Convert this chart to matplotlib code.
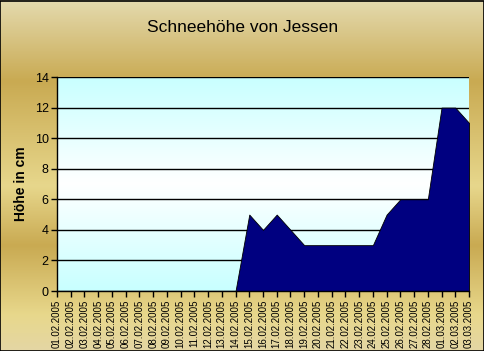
import numpy as np
import matplotlib.pyplot as plt
from matplotlib.colors import LinearSegmentedColormap

dates = ["01.02.2005", "02.02.2005", "03.02.2005", "04.02.2005", "05.02.2005",
         "06.02.2005", "07.02.2005", "08.02.2005", "09.02.2005", "10.02.2005",
         "11.02.2005", "12.02.2005", "13.02.2005", "14.02.2005", "15.02.2005",
         "16.02.2005", "17.02.2005", "18.02.2005", "19.02.2005", "20.02.2005",
         "21.02.2005", "22.02.2005", "23.02.2005", "24.02.2005", "25.02.2005",
         "26.02.2005", "27.02.2005", "28.02.2005", "01.03.2005", "02.03.2005",
         "03.03.2005"]
snow = [0, 0, 0, 0, 0, 0, 0, 0, 0, 0, 0, 0, 0, 0, 5, 4, 5, 4, 3, 3, 3, 3, 3, 3,
        5, 6, 6, 6, 12, 12, 11]
yticks = [0, 2, 4, 6, 8, 10, 12, 14]

plt.rcParams['font.family'] = ['Liberation Sans', 'DejaVu Sans']

fig = plt.figure(figsize=(4.85, 3.51), dpi=100)

# gold background gradient over the whole figure
bg = fig.add_axes([0, 0, 1, 1], zorder=-10)
gold = LinearSegmentedColormap.from_list("gold", [
    (0.00, "#e4d6a4"), (0.10, "#e8d88c"), (0.30, "#c9aa52"),
    (0.47, "#e7d78c"), (0.77, "#c9aa52"), (1.00, "#e4daae")])
bg.imshow(np.linspace(0, 1, 256).reshape(-1, 1), aspect="auto", cmap=gold,
          extent=[0, 1, 0, 1])
bg.set_xlim(0, 1)
bg.set_ylim(1, 0)
bg.axis("off")
fig.patches.append(plt.Rectangle((0.001, 0.001), 0.997, 0.996, fill=False,
                                 edgecolor="black", linewidth=1.2,
                                 transform=fig.transFigure))

ax = fig.add_axes([57 / 485, 1 - 291 / 351, 412 / 485, 214 / 351])
ax.patch.set_alpha(0)
plot_cmap = LinearSegmentedColormap.from_list("cy", ["#c8ffff", "#ffffff", "#c8ffff"])
ax.imshow(np.linspace(0, 1, 256).reshape(-1, 1), aspect="auto", cmap=plot_cmap,
          extent=[0, 1, 0, 1], transform=ax.transAxes, zorder=0)

x = np.arange(len(dates))
ax.fill_between(x, snow, color="#000080", edgecolor="black", linewidth=0.6, zorder=3)
for v in yticks:
    ax.axhline(v, color="black", linewidth=1, zorder=2)

ax.set_xlim(0, len(dates) - 1)
ax.set_ylim(0, 14)
ax.set_yticks(yticks)
ax.set_xticks(x)
ax.set_xticklabels(dates, rotation=90, fontsize=7)
ax.tick_params(axis="y", labelsize=9, length=4, width=1, pad=2)
ax.tick_params(axis="x", length=4, width=1, pad=2)
for s in ["top", "right"]:
    ax.spines[s].set_visible(False)
ax.spines["left"].set_linewidth(1)
ax.spines["bottom"].set_linewidth(1)
ax.spines["bottom"].set_zorder(5)

ax.set_ylabel("Höhe in cm", fontsize=10, fontweight="bold")
ax.yaxis.set_label_coords(-0.07, 0.5)
fig.text(0.5, 1 - 27 / 351, "Schneehöhe von Jessen", ha="center", va="center",
         fontsize=12.5)

fig.savefig("out.png", dpi=100)
